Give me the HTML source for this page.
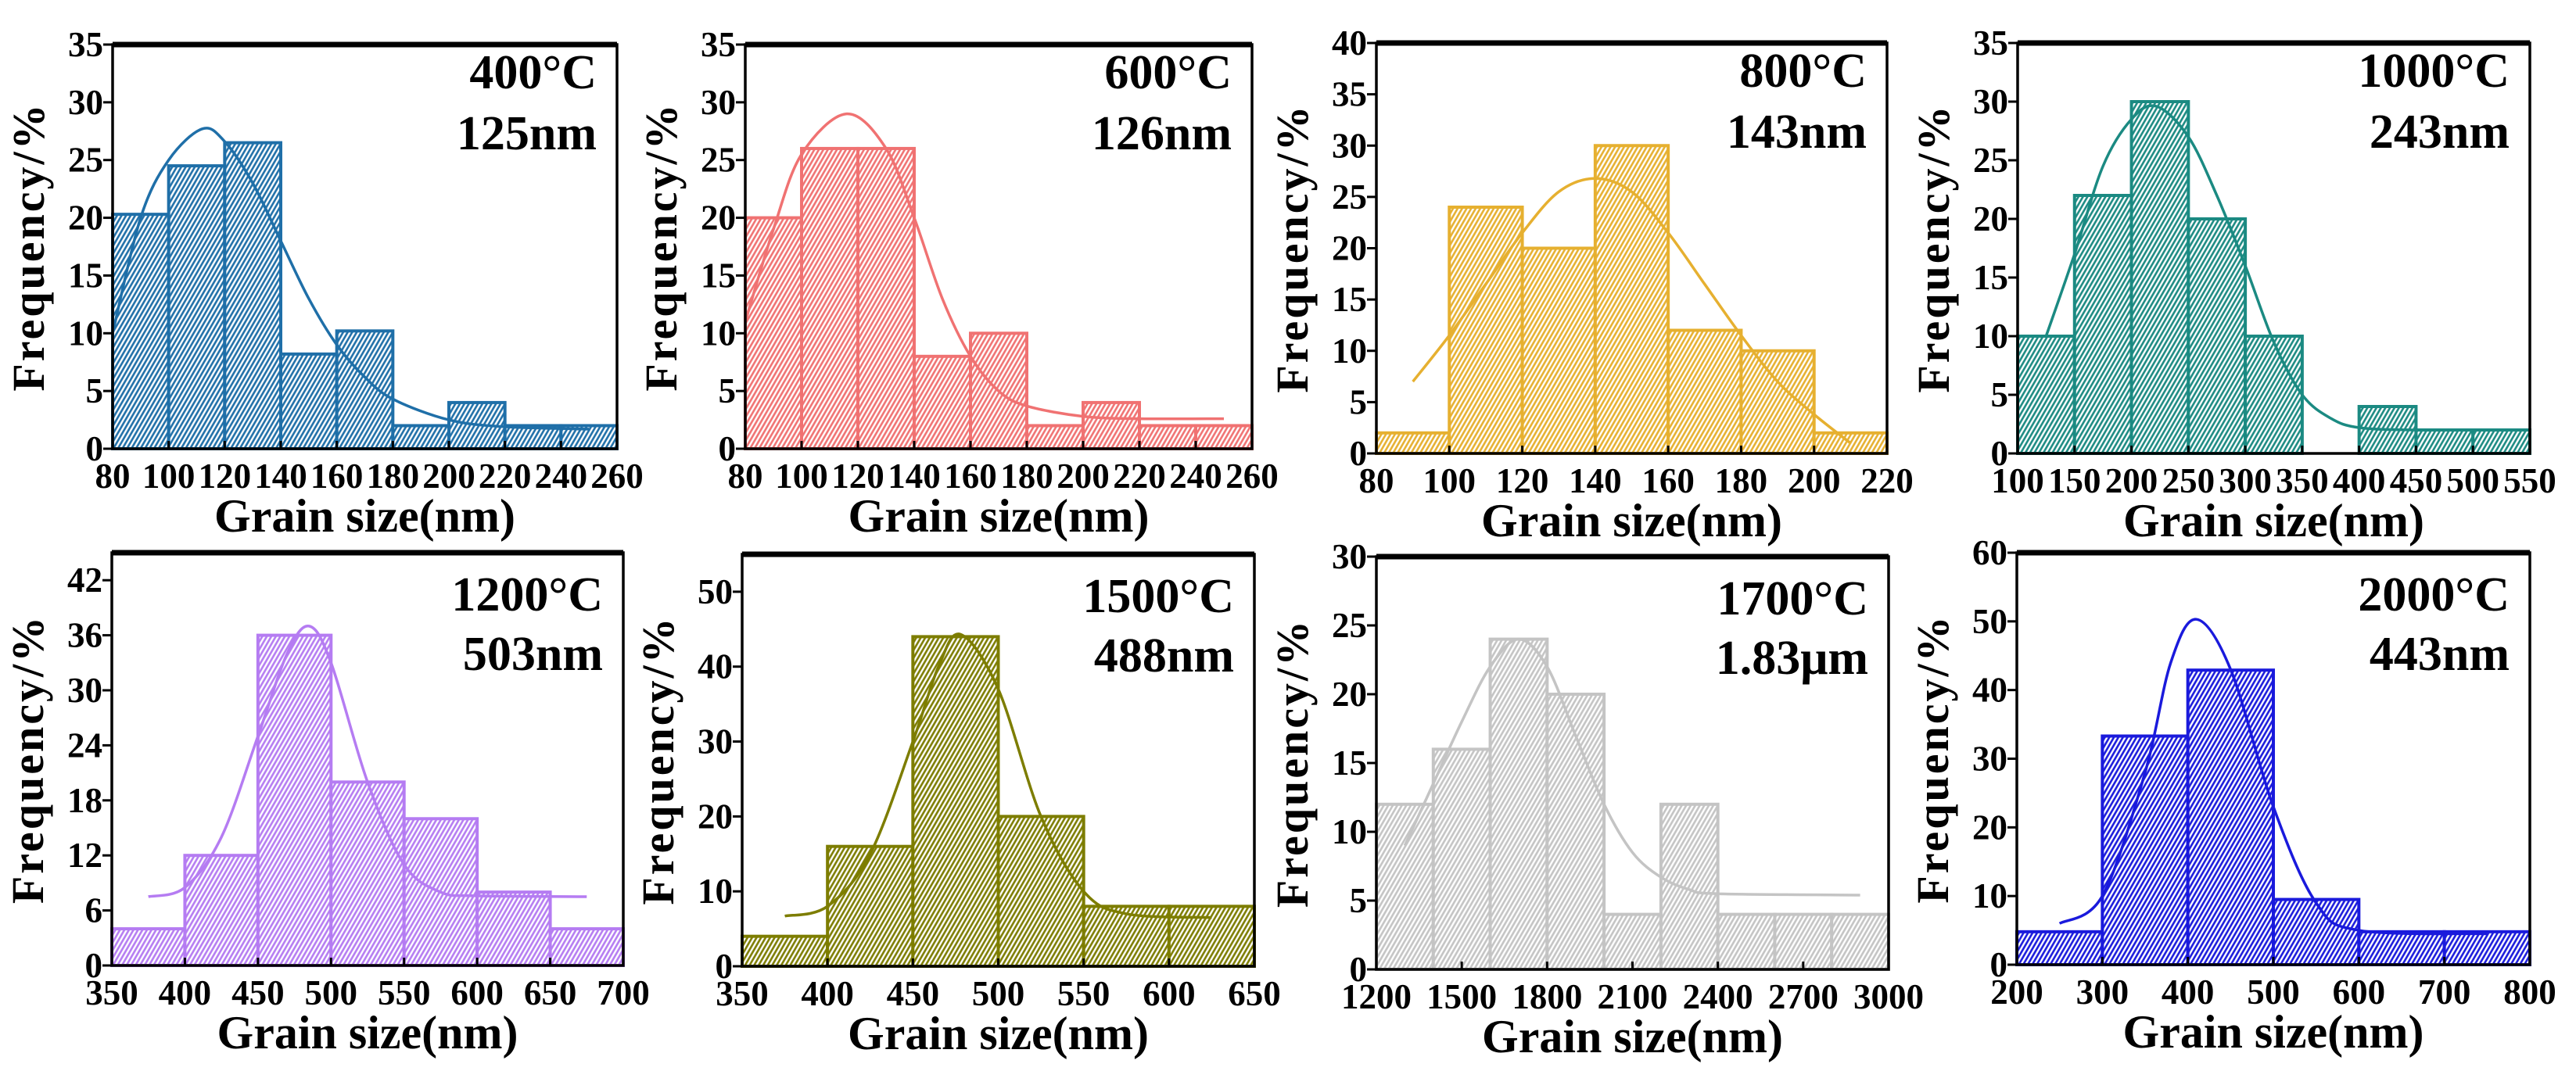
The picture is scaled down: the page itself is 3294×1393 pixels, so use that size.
<!DOCTYPE html>
<html><head><meta charset="utf-8"><style>
html,body{margin:0;padding:0;background:#fff;}
svg{display:block;font-family:"Liberation Serif",serif;font-weight:bold;}
</style></head><body>
<svg id="fig" width="3294" height="1393" viewBox="0 0 3294 1393" xmlns="http://www.w3.org/2000/svg"></svg>
<script>
// ---- data ----
const p1Edges=[80,100,120,140,160,180,200,220,240,260];
const p1Freq=[20.3,24.5,26.5,8.2,10.2,2,4,2,2];
const p1FitX=[80,90,100,112,120,130,140,150,160,170,180,200,220,250];
const p1FitY=[10,20,25,27.7,26.6,23,18,13,9,6.2,4.3,2.5,1.9,1.7];
const p1XTicks=[80,100,120,140,160,180,200,220,240,260];
const p1YTicks=[0,5,10,15,20,25,30,35];

const p2Edges=[80,100,120,140,160,180,200,220,240,260];
const p2Freq=[20,26,26,8,10,2,4,2,2];
const p2FitX=[80,90,100,116,130,140,150,160,170,180,200,220,250];
const p2FitY=[11,19,25.5,29,26,20,13,8,5,3.7,2.8,2.6,2.6];
const p2XTicks=[80,100,120,140,160,180,200,220,240,260];
const p2YTicks=[0,5,10,15,20,25,30,35];

const p3Edges=[80,100,120,140,160,180,200,220];
const p3Freq=[2,24,20,30,12,10,2];
const p3FitX=[90,100,110,120,130,140,150,160,170,180,190,200,210];
const p3FitY=[7,11.5,16.5,21.5,25.5,26.8,25.5,21.5,16.5,11.5,7,3.8,1];
const p3XTicks=[80,100,120,140,160,180,200,220];
const p3YTicks=[0,5,10,15,20,25,30,35,40];

const p4Edges=[100,150,200,250,300,350,400,450,500,550];
const p4Freq=[10,22,30,20,10,0,4,2,2];
const p4FitX=[125,150,175,200,222,250,275,300,325,350,375,400,450,540];
const p4FitY=[10,17,24.5,28.5,29.6,27,22,16,9.5,5,3,2.2,2,2];
const p4XTicks=[100,150,200,250,300,350,400,450,500,550];
const p4YTicks=[0,5,10,15,20,25,30,35];

const p5Edges=[350,400,450,500,550,600,650,700];
const p5Freq=[4,12,36,20,16,8,4];
const p5FitX=[375,400,425,450,470,485,500,525,550,575,600,675];
const p5FitY=[7.5,8.5,14,25,34,37,33,20,11,8,7.6,7.5];
const p5XTicks=[350,400,450,500,550,600,650,700];
const p5YTicks=[0,6,12,18,24,30,36,42];

const p6Edges=[350,400,450,500,550,600,650];
const p6Freq=[4,16,44,20,8,8];
const p6FitX=[375,400,425,450,465,478,500,525,550,575,625];
const p6FitY=[6.7,8,15,30,40,44.3,37,20,10,7,6.5];
const p6XTicks=[350,400,450,500,550,600,650];
const p6YTicks=[0,10,20,30,40,50];

const p7Edges=[1200,1400,1600,1800,2000,2200,2400,2600,2800,3000];
const p7Freq=[12,16,24,20,4,12,4,4,4];
const p7FitX=[1300,1400,1500,1600,1700,1800,1900,2000,2100,2200,2300,2400,2900];
const p7FitY=[9,13.5,18,22,24,22,17,12,8.5,6.7,5.8,5.5,5.4];
const p7XTicks=[1200,1500,1800,2100,2400,2700,3000];
const p7YTicks=[0,5,10,15,20,25,30];

const p8Edges=[200,300,400,500,600,700,800];
const p8Freq=[4.8,33.3,42.9,9.5,4.8,4.8];
const p8FitX=[250,300,350,380,410,450,500,550,600,750];
const p8FitY=[6,10,28,44,50.3,43,23,9,5,4.5];
const p8XTicks=[200,300,400,500,600,700,800];
const p8YTicks=[0,10,20,30,40,50,60];

// ---- layout ----
const panels=[
 {id:'400c',edges:p1Edges,freq:p1Freq,fx:p1FitX,fy:p1FitY,xt:p1XTicks,yt:p1YTicks,xmin:80,xmax:260,ymax:35,color:'#1f6fa8',l:144,r:789,t:57,b:574,t1:'400°C',t2:'125nm',row:0},
 {id:'600c',edges:p2Edges,freq:p2Freq,fx:p2FitX,fy:p2FitY,xt:p2XTicks,yt:p2YTicks,xmin:80,xmax:260,ymax:35,color:'#f07272',l:953,r:1601,t:57,b:574,t1:'600°C',t2:'126nm',row:0},
 {id:'800c',edges:p3Edges,freq:p3Freq,fx:p3FitX,fy:p3FitY,xt:p3XTicks,yt:p3YTicks,xmin:80,xmax:220,ymax:40,color:'#e6b030',l:1760,r:2413,t:55,b:580,t1:'800°C',t2:'143nm',row:0},
 {id:'1000c',edges:p4Edges,freq:p4Freq,fx:p4FitX,fy:p4FitY,xt:p4XTicks,yt:p4YTicks,xmin:100,xmax:550,ymax:35,color:'#1b8a82',l:2580,r:3235,t:55,b:580,t1:'1000°C',t2:'243nm',row:0},
 {id:'1200c',edges:p5Edges,freq:p5Freq,fx:p5FitX,fy:p5FitY,xt:p5XTicks,yt:p5YTicks,xmin:350,xmax:700,ymax:45,color:'#b57cf2',l:143,r:797,t:707,b:1235,t1:'1200°C',t2:'503nm',row:1},
 {id:'1500c',edges:p6Edges,freq:p6Freq,fx:p6FitX,fy:p6FitY,xt:p6XTicks,yt:p6YTicks,xmin:350,xmax:650,ymax:55,color:'#7d7d00',l:949,r:1604,t:709,b:1236,t1:'1500°C',t2:'488nm',row:1},
 {id:'1700c',edges:p7Edges,freq:p7Freq,fx:p7FitX,fy:p7FitY,xt:p7XTicks,yt:p7YTicks,xmin:1200,xmax:3000,ymax:30,color:'#c4c4c4',l:1760,r:2415,t:712,b:1240,t1:'1700°C',t2:'1.83μm',row:1},
 {id:'2000c',edges:p8Edges,freq:p8Freq,fx:p8FitX,fy:p8FitY,xt:p8XTicks,yt:p8YTicks,xmin:200,xmax:800,ymax:60,color:'#1a1adc',l:2579,r:3235,t:707,b:1234,t1:'2000°C',t2:'443nm',row:1}
];
const NS='http://www.w3.org/2000/svg';
const svg=document.getElementById('fig');
function mk(tag,attrs,parent){const e=document.createElementNS(NS,tag);for(const k in attrs)e.setAttribute(k,attrs[k]);(parent||svg).appendChild(e);return e;}
const defs=mk('defs',{});
panels.forEach((p,i)=>{
  const pat=mk('pattern',{id:'h'+i,patternUnits:'userSpaceOnUse',width:5,height:5,patternTransform:'rotate(-60)'},defs);
  mk('rect',{x:0,y:0,width:5,height:5,fill:'#fff'},pat);
  mk('line',{x1:0,y1:2.5,x2:5,y2:2.5,stroke:p.color,'stroke-width':2.6},pat);
});
panels.forEach((p,i)=>{
  const g=mk('g',{});
  
  
  const X=v=>p.l+(v-p.xmin)/(p.xmax-p.xmin)*(p.r-p.l);
  const Y=v=>p.b-v/p.ymax*(p.b-p.t);
  p.freq.forEach((f,j)=>{
    if(f<=0)return;
    const x0=X(p.edges[j]),x1=X(p.edges[j+1]);
    const rc=mk('rect',{x:x0,y:Y(f),width:x1-x0,height:p.b-Y(f),fill:'url(#h'+i+')',stroke:p.color,'stroke-width':4},g);
    
    
  });
  const pts=p.fx.map((x,k)=>[X(x),Y(p.fy[k])]);
  let d='M'+pts[0][0]+','+pts[0][1];
  for(let k=0;k<pts.length-1;k++){
    const p0=pts[Math.max(k-1,0)],p1=pts[k],p2=pts[k+1],p3=pts[Math.min(k+2,pts.length-1)];
    const c1=[p1[0]+(p2[0]-p0[0])/6,p1[1]+(p2[1]-p0[1])/6],c2=[p2[0]-(p3[0]-p1[0])/6,p2[1]-(p3[1]-p1[1])/6];
    d+=' C'+c1[0]+','+c1[1]+' '+c2[0]+','+c2[1]+' '+p2[0]+','+p2[1];
  }
  const cv=mk('path',{d:d,fill:'none',stroke:p.color,'stroke-width':3.5},g);
  
  
  const fr=mk('rect',{x:p.l,y:p.t,width:p.r-p.l,height:p.b-p.t,fill:'none',stroke:'#000','stroke-width':3.5},g);
  
  
  mk('line',{x1:p.l,y1:p.t,x2:p.r,y2:p.t,stroke:'#000','stroke-width':7},g);
  p.xt.forEach(v=>{
    mk('line',{x1:X(v),y1:p.b,x2:X(v),y2:p.b-10,stroke:'#000','stroke-width':3},g);
    const t=mk('text',{x:X(v),y:p.b+50,'text-anchor':'middle','font-size':45},g);
    t.textContent=v;
    
    
  });
  p.yt.forEach(v=>{
    mk('line',{x1:p.l-12,y1:Y(v),x2:p.l,y2:Y(v),stroke:'#000','stroke-width':3},g);
    const t=mk('text',{x:p.l-12,y:Y(v)+15,'text-anchor':'end','font-size':45},g);
    t.textContent=v;
    
    
  });
  const yt=mk('text',{x:0,y:0,'text-anchor':'middle','font-size':58,'letter-spacing':3,transform:'translate('+(p.l-88)+','+((p.t+p.b)/2)+') rotate(-90)'},g);
  yt.textContent='Frequency/%';
  
  
  const xt=mk('text',{x:(p.l+p.r)/2,y:p.b+106,'text-anchor':'middle','font-size':60},g);
  xt.textContent='Grain size(nm)';
  
  
  const a1=mk('text',{x:p.r-26,y:p.t+(p.row===0?56:74),'text-anchor':'end','font-size':62},g);
  a1.textContent=p.t1;
  
  
  const a2=mk('text',{x:p.r-26,y:p.t+(p.row===0?134:150),'text-anchor':'end','font-size':62},g);
  a2.textContent=p.t2;
  
  
});
</script>
</body></html>
